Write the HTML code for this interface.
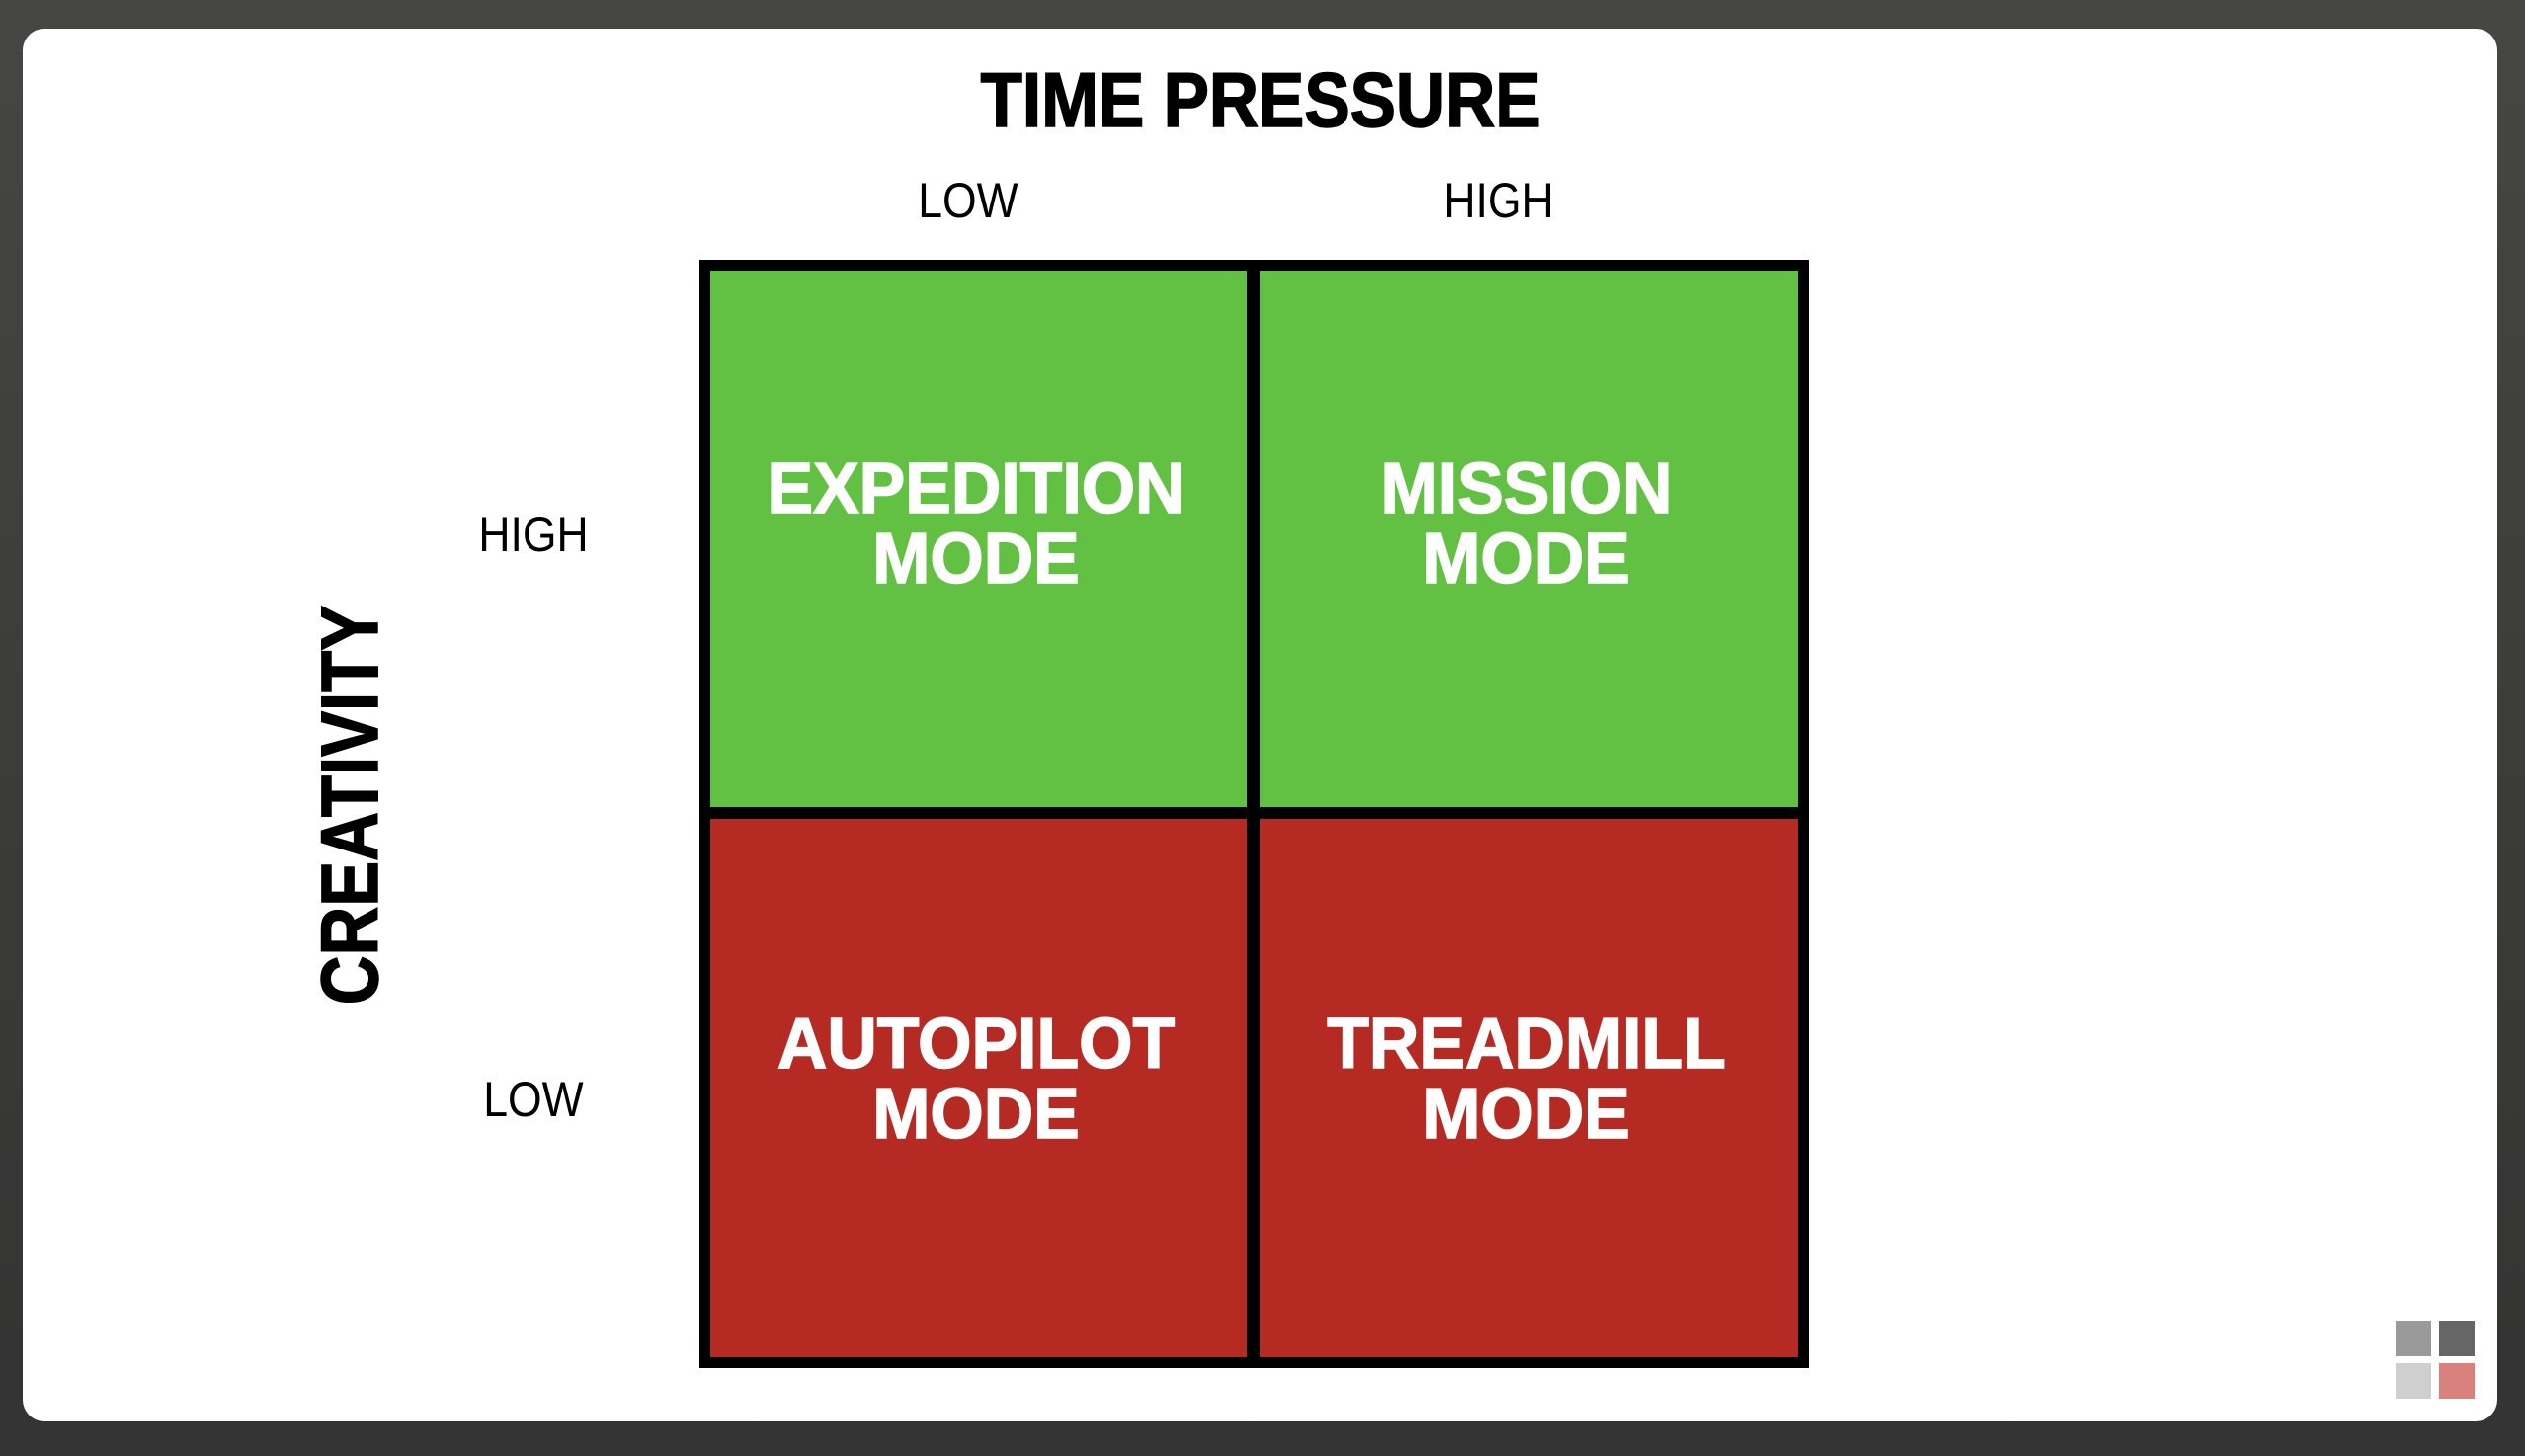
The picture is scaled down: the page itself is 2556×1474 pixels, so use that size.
<!DOCTYPE html>
<html><head><meta charset="utf-8"><style>
html,body{margin:0;padding:0}
body{width:2556px;height:1474px;overflow:hidden;background:linear-gradient(180deg,#464644 0%,#3c3c3a 50%,#333 100%);position:relative;font-family:"Liberation Sans",Arial,sans-serif}
.card{position:absolute;left:23px;top:29px;width:2505px;height:1410px;background:#fff;border-radius:22px}
.t{position:absolute;text-align:center;white-space:nowrap}
.cell{position:absolute;box-sizing:border-box}
.big{font-weight:bold;color:#fff;font-size:72px;line-height:71px;transform:scaleX(0.97);-webkit-text-stroke:1.5px #fff}
.lab{font-size:50px;line-height:50px;color:#000;transform:scaleX(0.89)}
.sq{position:absolute;width:36px;height:36px}
</style></head><body>
<div class="card"></div>
<div class="t" style="left:876px;top:62px;width:800px;font-size:78px;line-height:78px;font-weight:bold;transform:scaleX(0.89);-webkit-text-stroke:1.5px #000">TIME PRESSURE</div>
<div class="t lab" style="left:880px;top:178px;width:200px">LOW</div>
<div class="t lab" style="left:1417px;top:178px;width:200px">HIGH</div>
<div class="t lab" style="left:440px;top:516px;width:200px">HIGH</div>
<div class="t lab" style="left:440px;top:1088px;width:200px">LOW</div>
<div class="t" style="left:55px;top:774px;width:600px;font-size:82px;line-height:82px;font-weight:bold;transform:rotate(-90deg) scaleX(0.84);-webkit-text-stroke:1.5px #000">CREATIVITY</div>
<div class="cell" style="left:708px;top:263px;width:1123px;height:1122px;background:#000"></div>
<div class="cell" style="left:719px;top:274px;width:543px;height:543px;background:#62c142"></div>
<div class="cell" style="left:1275px;top:274px;width:545px;height:543px;background:#62c142"></div>
<div class="cell" style="left:719px;top:829px;width:543px;height:545px;background:#b52a23"></div>
<div class="cell" style="left:1275px;top:829px;width:545px;height:545px;background:#b52a23"></div>
<div class="t big" style="left:688px;top:460px;width:600px">EXPEDITION<br>MODE</div>
<div class="t big" style="left:1245px;top:460px;width:600px">MISSION<br>MODE</div>
<div class="t big" style="left:688px;top:1022px;width:600px">AUTOPILOT<br>MODE</div>
<div class="t big" style="left:1245px;top:1022px;width:600px">TREADMILL<br>MODE</div>
<div class="sq" style="left:2425px;top:1337px;background:#9a9a9a"></div>
<div class="sq" style="left:2469px;top:1337px;background:#666"></div>
<div class="sq" style="left:2425px;top:1380px;background:#cfcfcf"></div>
<div class="sq" style="left:2469px;top:1380px;background:#d9817c"></div>
</body></html>
